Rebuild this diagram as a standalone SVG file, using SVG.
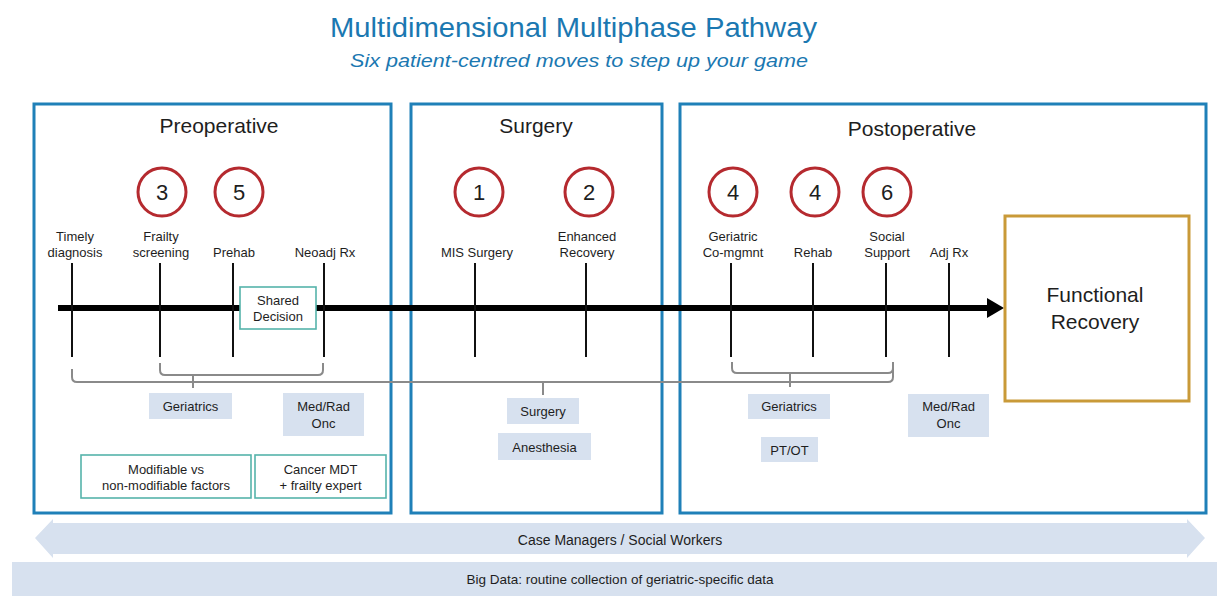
<svg xmlns="http://www.w3.org/2000/svg" width="1217" height="596" viewBox="0 0 1217 596">
  <defs>
    <style>
      text { font-family: "Liberation Sans", Arial, sans-serif; fill: #1e1e1e; text-anchor: middle; }
      .title { font-size: 28px; fill: #1b78b1; }
      .subtitle { font-size: 19px; font-style: italic; fill: #1b78b1; }
      .phase { fill: #ffffff; stroke: #1f80b8; stroke-width: 3; }
      .phase-title { font-size: 21px; }
      .move { fill: #ffffff; stroke: #b52a2f; stroke-width: 3; }
      .move-num { font-size: 22px; }
      .lbl { font-size: 13px; }
      .team { fill: #d7e1ef; }
      .team-txt { font-size: 13px; }
      .note { fill: #ffffff; stroke: #55b3ab; stroke-width: 1.6; }
      .tick { stroke: #111111; stroke-width: 2; }
      .brace { fill: none; stroke: #8a8a8a; stroke-width: 2; }
      .band { fill: #d7e1ef; }
      .goal { fill: #ffffff; stroke: #c99a38; stroke-width: 3; }
    </style>
    <marker id="head" markerUnits="userSpaceOnUse" markerWidth="18" markerHeight="20" refX="1" refY="10" orient="auto">
      <path d="M0,0 L17,10 L0,20 Z" fill="#000000"/>
    </marker>
  </defs>

  <rect width="1217" height="596" fill="#ffffff"/>

  <!-- heading -->
  <g id="heading">
    <text class="title" x="573.5" y="37" textLength="487" lengthAdjust="spacingAndGlyphs">Multidimensional Multiphase Pathway</text>
    <text class="subtitle" x="579" y="67" textLength="458" lengthAdjust="spacingAndGlyphs">Six patient-centred moves to step up your game</text>
  </g>

  <!-- phase panels -->
  <g id="phase-preop">
    <rect class="phase" x="34" y="104" width="357" height="409"/>
    <text class="phase-title" x="219" y="133">Preoperative</text>
  </g>
  <g id="phase-surgery">
    <rect class="phase" x="411" y="104" width="251" height="409"/>
    <text class="phase-title" x="536" y="133">Surgery</text>
  </g>
  <g id="phase-postop">
    <rect class="phase" x="680" y="104" width="526" height="409"/>
    <text class="phase-title" x="912" y="136">Postoperative</text>
  </g>

  <!-- connectors: timeline, ticks, team braces -->
  <g id="connectors">
    <line x1="58" y1="308" x2="988" y2="308" stroke="#000000" stroke-width="6" marker-end="url(#head)"/>
    <line class="tick" x1="72" y1="263" x2="72" y2="357"/>
    <line class="tick" x1="160" y1="263" x2="160" y2="357"/>
    <line class="tick" x1="233" y1="263" x2="233" y2="357"/>
    <line class="tick" x1="324" y1="263" x2="324" y2="357"/>
    <line class="tick" x1="475" y1="263" x2="475" y2="357"/>
    <line class="tick" x1="586" y1="263" x2="586" y2="357"/>
    <line class="tick" x1="731" y1="263" x2="731" y2="357"/>
    <line class="tick" x1="813" y1="263" x2="813" y2="357"/>
    <line class="tick" x1="886" y1="263" x2="886" y2="357"/>
    <line class="tick" x1="949" y1="263" x2="949" y2="357"/>
    <!-- long brace across all phases -->
    <path class="brace" d="M72,369 V377 Q72,382 77,382 H888 Q893,382 893,377 V362"/>
    <path class="brace" d="M543,382 V395"/>
    <!-- preoperative geriatric brace -->
    <path class="brace" d="M160,363 V370 Q160,375 165,375 H318 Q323,375 323,370 V363"/>
    <path class="brace" d="M193,375 V388"/>
    <!-- postoperative geriatric brace -->
    <path class="brace" d="M732,362 V368 Q732,373 737,373 H888 Q893,373 893,368"/>
    <path class="brace" d="M790,373 V387"/>
  </g>

  <!-- six moves -->
  <g id="move-3"><circle class="move" cx="162" cy="192" r="24"/><text class="move-num" x="162" y="200">3</text></g>
  <g id="move-5"><circle class="move" cx="239" cy="192" r="24"/><text class="move-num" x="239" y="200">5</text></g>
  <g id="move-1"><circle class="move" cx="479" cy="192" r="24"/><text class="move-num" x="479" y="200">1</text></g>
  <g id="move-2"><circle class="move" cx="589" cy="192" r="24"/><text class="move-num" x="589" y="200">2</text></g>
  <g id="move-4a"><circle class="move" cx="733" cy="192" r="24"/><text class="move-num" x="733" y="200">4</text></g>
  <g id="move-4b"><circle class="move" cx="815" cy="192" r="24"/><text class="move-num" x="815" y="200">4</text></g>
  <g id="move-6"><circle class="move" cx="887" cy="192" r="24"/><text class="move-num" x="887" y="200">6</text></g>

  <!-- milestone labels -->
  <g id="step-timely"><text class="lbl" x="75" y="241">Timely</text><text class="lbl" x="75" y="257">diagnosis</text></g>
  <g id="step-frailty"><text class="lbl" x="161" y="241">Frailty</text><text class="lbl" x="161" y="257">screening</text></g>
  <g id="step-prehab"><text class="lbl" x="234" y="257">Prehab</text></g>
  <g id="step-neoadj"><text class="lbl" x="325" y="257">Neoadj Rx</text></g>
  <g id="step-mis"><text class="lbl" x="477" y="257">MIS Surgery</text></g>
  <g id="step-eras"><text class="lbl" x="587" y="241">Enhanced</text><text class="lbl" x="587" y="257">Recovery</text></g>
  <g id="step-comgmt"><text class="lbl" x="733" y="241">Geriatric</text><text class="lbl" x="733" y="257">Co-mgmnt</text></g>
  <g id="step-rehab"><text class="lbl" x="813" y="257">Rehab</text></g>
  <g id="step-social"><text class="lbl" x="887" y="241">Social</text><text class="lbl" x="887" y="257">Support</text></g>
  <g id="step-adj"><text class="lbl" x="949" y="257">Adj Rx</text></g>

  <!-- shared decision -->
  <g id="shared-decision">
    <rect class="note" x="240" y="287" width="76" height="42"/>
    <text class="lbl" x="278" y="305">Shared</text>
    <text class="lbl" x="278" y="321">Decision</text>
  </g>

  <!-- teams -->
  <g id="team-geri-pre">
    <rect class="team" x="149" y="393" width="83" height="26"/>
    <text class="team-txt" x="190.5" y="411">Geriatrics</text>
  </g>
  <g id="team-onc-pre">
    <rect class="team" x="283" y="393" width="81" height="43"/>
    <text class="team-txt" x="323.5" y="411">Med/Rad</text>
    <text class="team-txt" x="323.5" y="428">Onc</text>
  </g>
  <g id="team-surgery">
    <rect class="team" x="507" y="398" width="72" height="26"/>
    <text class="team-txt" x="543" y="416">Surgery</text>
  </g>
  <g id="team-anesthesia">
    <rect class="team" x="498" y="433" width="93" height="27"/>
    <text class="team-txt" x="544.5" y="452">Anesthesia</text>
  </g>
  <g id="team-geri-post">
    <rect class="team" x="748" y="394" width="82" height="25"/>
    <text class="team-txt" x="789" y="411">Geriatrics</text>
  </g>
  <g id="team-ptot">
    <rect class="team" x="761" y="437" width="57" height="25"/>
    <text class="team-txt" x="789.5" y="455">PT/OT</text>
  </g>
  <g id="team-onc-post">
    <rect class="team" x="908" y="394" width="81" height="43"/>
    <text class="team-txt" x="948.5" y="411">Med/Rad</text>
    <text class="team-txt" x="948.5" y="428">Onc</text>
  </g>

  <!-- preoperative notes -->
  <g id="note-factors">
    <rect class="note" x="81" y="455" width="170" height="43"/>
    <text class="lbl" x="166" y="474">Modifiable vs</text>
    <text class="lbl" x="166" y="490">non-modifiable factors</text>
  </g>
  <g id="note-mdt">
    <rect class="note" x="255" y="455" width="131" height="43"/>
    <text class="lbl" x="320.5" y="474">Cancer MDT</text>
    <text class="lbl" x="320.5" y="490">+ frailty expert</text>
  </g>

  <!-- outcome -->
  <g id="functional-recovery">
    <rect class="goal" x="1005" y="216" width="184" height="185"/>
    <text x="1095" y="302" font-size="21">Functional</text>
    <text x="1095" y="329" font-size="21">Recovery</text>
  </g>

  <!-- cross-phase support -->
  <g id="case-managers">
    <path class="band" d="M35,538 L53,519 V523 H1187 V519 L1205,538 L1187,558 V554 H53 V558 Z"/>
    <text x="620" y="545" font-size="14">Case Managers / Social Workers</text>
  </g>
  <g id="big-data">
    <rect class="band" x="12" y="562" width="1205" height="34"/>
    <text x="620" y="584" font-size="13.5">Big Data: routine collection of geriatric-specific data</text>
  </g>
</svg>
